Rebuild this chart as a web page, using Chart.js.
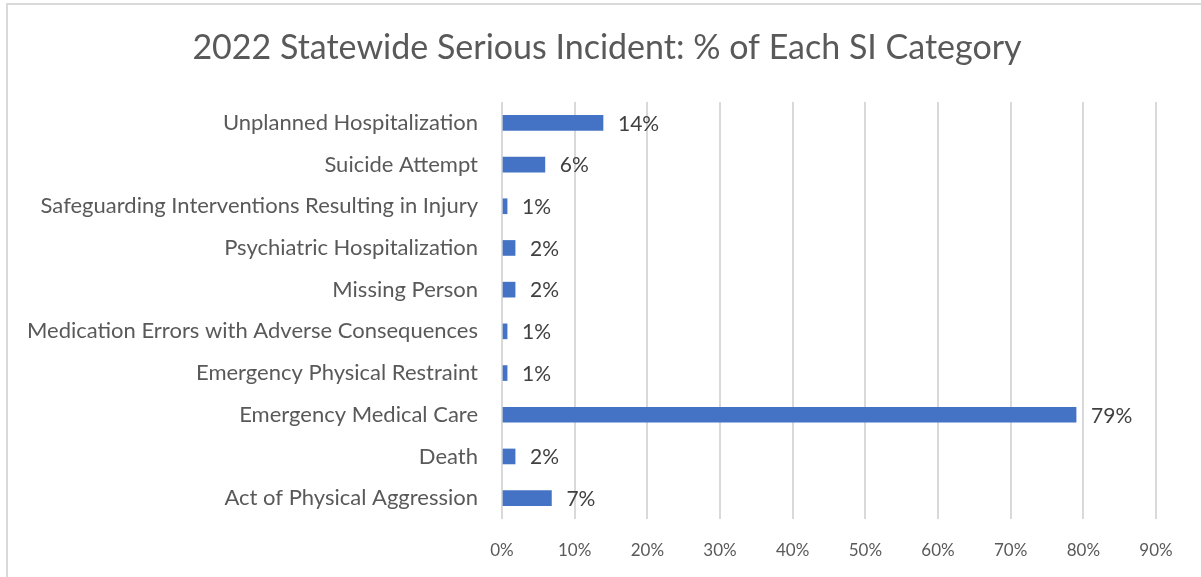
<!DOCTYPE html>
<html lang="en">

<head>
    <meta charset="UTF-8">
    <title>2022 Statewide Serious Incident</title>
    <style>
        html, body {
            margin: 0;
            padding: 0;
            background: #ffffff;
            overflow: hidden;
        }

        #frame {
            position: absolute;
            left: 6px;
            top: 3px;
            width: 1300px;
            height: 700px;
            border-left: 2px solid #d9d9d9;
            border-top: 2px solid #d9d9d9;
        }

        #siChart {
            position: absolute;
            left: 0;
            top: 0;
        }
    </style>
</head>

<body>
    <div id="frame"></div>
    <canvas id="siChart" width="1201" height="577"></canvas>

    <script src="https://cdn.jsdelivr.net/npm/chart.js@4.4.1/dist/chart.umd.min.js"></script>
    <script>
        const chartTitle = '2022 Statewide Serious Incident: % of Each SI Category';
        const categories = [
            'Unplanned Hospitalization',
            'Suicide Attempt',
            'Safeguarding Interventions Resulting in Injury',
            'Psychiatric Hospitalization',
            'Missing Person',
            'Medication Errors with Adverse Consequences',
            'Emergency Physical Restraint',
            'Emergency Medical Care',
            'Death',
            'Act of Physical Aggression'
        ];
        // percent of all serious incidents
        const percentValues = [13.9, 5.9, 0.7, 1.8, 1.8, 0.7, 0.7, 79.0, 1.8, 6.8];
        const tickValues = [0, 10, 20, 30, 40, 50, 60, 70, 80, 90];

        const fontFamily = 'Lato, "Open Sans", sans-serif';
        const textColor = '#595959';
        const barColor = '#4472c4';
        const gridColor = '#d9d9d9';

        // title drawn by hand so it sits centred on the frame, not the plot
        const frameTitle = {
            id: 'frameTitle',
            afterDraw(chart) {
                const c = chart.ctx;
                c.save();
                c.font = '34px ' + fontFamily;
                c.fillStyle = textColor;
                c.textAlign = 'center';
                c.textBaseline = 'middle';
                c.fillText(chartTitle, 607, 48);
                c.restore();
            }
        };

        // writes the rounded % just past the end of each bar
        const valueLabels = {
            id: 'valueLabels',
            afterDatasetsDraw(chart) {
                const c = chart.ctx;
                const meta = chart.getDatasetMeta(0);
                c.save();
                c.font = '21px ' + fontFamily;
                c.fillStyle = '#404040';
                c.textAlign = 'left';
                c.textBaseline = 'middle';
                meta.data.forEach((bar, i) => {
                    c.fillText(Math.round(percentValues[i]) + '%', bar.x + 15, bar.y + 1);
                });
                c.restore();
            }
        };

        new Chart(document.getElementById('siChart'), {
            type: 'bar',
            data: {
                labels: categories,
                datasets: [{
                    data: percentValues,
                    backgroundColor: barColor,
                    barThickness: 15
                }]
            },
            options: {
                indexAxis: 'y',
                responsive: false,
                animation: false,
                layout: {
                    padding: { left: 0, right: 45, top: 102, bottom: 0 }
                },
                plugins: {
                    legend: { display: false },
                    tooltip: { enabled: false },
                    title: { display: false }
                },
                scales: {
                    x: {
                        min: 0,
                        max: 90,
                        afterBuildTicks(scale) {
                            scale.ticks = tickValues.map(v => ({ value: v }));
                        },
                        afterFit(scale) {
                            scale.height = 58;
                        },
                        grid: {
                            color: gridColor,
                            lineWidth: 2,
                            drawTicks: false
                        },
                        border: { display: false },
                        ticks: {
                            padding: 21,
                            color: textColor,
                            font: { family: fontFamily, size: 17 },
                            callback: v => v + '%'
                        }
                    },
                    y: {
                        afterFit(scale) {
                            scale.width = 502;
                        },
                        grid: { display: false, drawTicks: false },
                        border: { display: false },
                        ticks: {
                            padding: 24,
                            color: textColor,
                            font: { family: fontFamily, size: 22 }
                        }
                    }
                }
            },
            plugins: [frameTitle, valueLabels]
        });
    </script>
</body>

</html>
